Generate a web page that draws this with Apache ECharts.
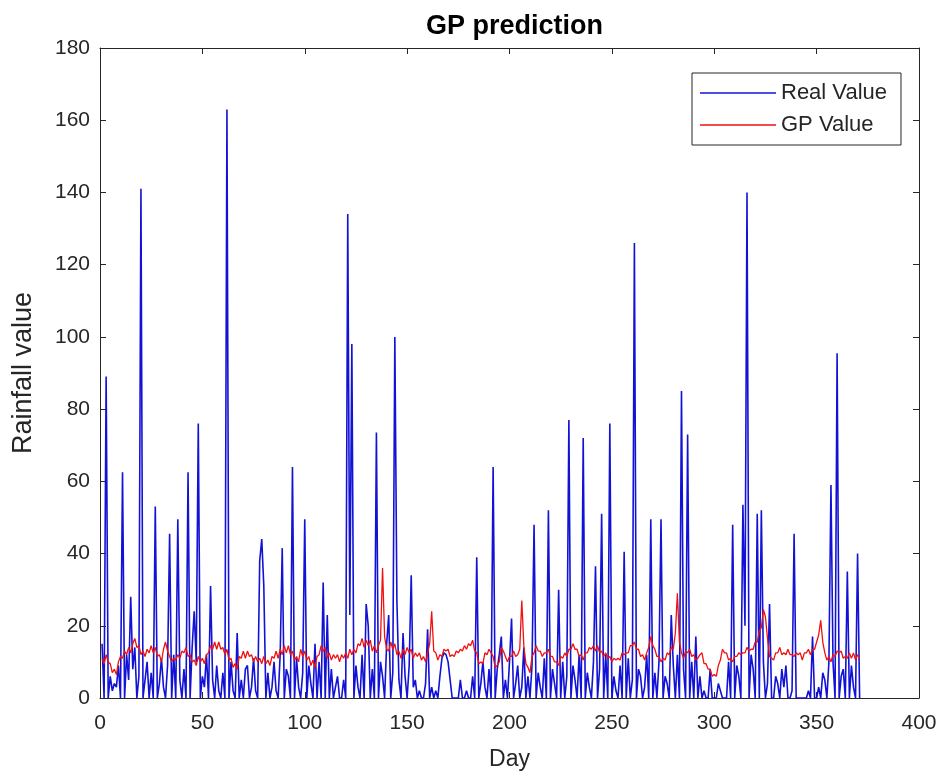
<!DOCTYPE html>
<html>
<head>
<meta charset="utf-8">
<script src="https://cdn.jsdelivr.net/npm/echarts@6/dist/echarts.min.js"></script>
<style>
html,body{margin:0;padding:0;background:#fff;}
#chart{width:949px;height:779px;}
</style>
</head>
<body>
<div id="chart"></div>
<script>
// Real rainfall value, day 1..371
var realValue = [
15, 0, 89, 0, 6, 2, 4, 3, 9, 0,
62.5, 0, 12, 5, 28, 8, 14, 0, 6, 141,
0, 5, 10, 0, 7, 0, 53, 0, 4, 11,
3, 0, 9, 45.5, 0, 12, 0, 49.5, 5, 0,
8, 0, 62.5, 0, 14, 24, 10, 76, 0, 6,
3, 12, 0, 31, 5, 0, 9, 2, 0, 7,
0, 163, 0, 10, 2, 0, 18, 0, 5, 0,
8, 9, 0, 3, 11, 2, 0, 38, 44, 31,
0, 7, 0, 3, 10, 2, 0, 12, 41.5, 0,
8, 6, 0, 64, 0, 11, 3, 0, 7, 49.5,
0, 9, 4, 0, 15, 0, 10, 0, 32, 0,
23, 0, 8, 0, 3, 6, 0, 0, 5, 0,
134, 23, 98, 0, 9, 3, 0, 12, 0, 26,
20, 0, 8, 0, 73.5, 0, 10, 6, 0, 15,
23, 0, 7, 100, 27, 5, 0, 18, 6, 0,
9, 34, 3, 5, 0, 2, 0, 0, 4, 19,
0, 3, 0, 2, 0, 6, 11, 12.5, 12, 10,
5, 0, 0, 0, 0, 5, 0, 0, 2, 0,
0, 6, 0, 39, 0, 4, 10, 3, 0, 8,
0, 64, 0, 8, 12, 17, 0, 5, 0, 10,
22, 0, 4, 9, 0, 3, 14, 0, 6, 0,
9, 48, 0, 7, 3, 0, 11, 0, 52, 0,
8, 4, 0, 30, 0, 10, 0, 6, 77, 0,
9, 5, 0, 12, 0, 72, 0, 7, 3, 0,
10, 36.5, 0, 8, 51, 0, 12, 0, 76, 0,
6, 2, 0, 9, 0, 40.5, 0, 11, 0, 5,
126, 0, 8, 6, 0, 3, 12, 0, 49.5, 0,
7, 0, 10, 49.5, 0, 6, 4, 0, 23, 9,
0, 12, 0, 85, 8, 0, 73, 0, 10, 0,
17, 0, 6, 0, 2, 0, 0, 8, 0, 0,
0, 4, 2, 0, 0, 0, 10, 0, 48, 0,
9, 6, 0, 53.5, 20, 140, 0, 12, 8, 0,
51, 0, 52, 10, 0, 4, 26, 0, 0, 6,
4, 0, 8, 3, 9, 0, 0, 2, 45.5, 0,
0, 0, 0, 0, 0, 2, 0, 17, 0, 0,
3, 0, 7, 5, 0, 10, 59, 10, 0, 95.5,
0, 6, 8, 0, 35, 0, 9, 3, 0, 40,
0
];

// GP predicted value, day 1..371
var gpValue = [
11, 9.5, 12, 10, 9.5, 7, 8, 6.5, 10, 11.5,
11, 13, 12, 14, 12.5, 15, 16.5, 14, 14.5, 12,
13, 11.5, 13.5, 12.5, 14.5, 12.5, 14, 11.5, 12, 10,
13.5, 15.5, 13, 11.5, 10, 11, 10.5, 12, 11, 13,
12.5, 14, 11.5, 12, 10, 10.5, 9, 11.5, 10, 11,
9.5, 12, 12.5, 14.5, 13.5, 15.5, 13.5, 15.5, 13.5, 14,
12, 13.5, 10.5, 11, 8.5, 9.5, 8, 11.5, 11, 13,
11, 13, 11.5, 12, 10, 11.5, 10, 11, 9.5, 11.5,
9.5, 10.5, 9, 11.5, 11, 13, 11, 13.5, 12, 14.5,
12.5, 14.5, 12, 13, 10.5, 11.5, 10, 13.5, 11.5, 13,
10.5, 11.5, 9, 10.5, 8.5, 11.5, 12, 14.5, 13, 14,
11, 12.5, 10.5, 12, 11, 12, 10, 12, 11, 12.5,
11, 13.5, 12, 13.5, 12.5, 15, 14.5, 16.5, 14, 16,
14.5, 16, 13, 14.5, 12.5, 14.5, 16, 36, 17, 13.5,
13, 15.5, 13.5, 15, 12, 13, 11, 13.5, 12, 14,
12.5, 13.5, 11, 12.5, 11.5, 12.5, 10.5, 11.5, 10, 12.5,
15, 24, 13, 12.5, 10.5, 12, 11.5, 13.5, 13, 13.5,
11.5, 12, 11.5, 13, 12.5, 13.5, 13, 14.5, 13.5, 15,
14.5, 16, 13, 12.5, 9.5, 10, 9.5, 12.5, 12, 13.5,
12.5, 11.5, 8.5, 9, 10, 14, 13, 11.5, 10, 11.5,
11.5, 13, 11.5, 12, 13.5, 27, 14.5, 9.5, 8.5, 7,
11.5, 12.5, 14.5, 13, 13, 11.5, 12.5, 12.5, 13.5, 11.5,
11.5, 10, 10, 9, 11.5, 11, 12.5, 11.5, 13.5, 13.5,
15, 13.5, 13.5, 11.5, 12, 10.5, 12.5, 12.5, 14, 13.5,
14.5, 13, 14.5, 12.5, 13, 11.5, 12.5, 11, 11.5, 10,
11, 10.5, 11, 10.5, 12.5, 12, 12.5, 12.5, 14.5, 14.5,
15.5, 13.5, 13.5, 11.5, 12, 10.5, 12.5, 14, 17, 14.5,
13.5, 11.5, 11.5, 10, 11, 10.5, 12.5, 12, 14, 13.5,
18, 29, 15.5, 12.5, 11, 13, 12.5, 13.5, 11.5, 12,
10.5, 11, 12, 12.5, 9.5, 9.5, 8, 8, 6, 6.5,
6, 9, 10.5, 13.5, 12.5, 12.5, 10.5, 11, 10, 11.5,
11.5, 12.5, 12, 12.5, 12.5, 14, 13, 13.5, 13.5, 15.5,
15.5, 18.5, 19.5, 24.5, 22.5, 16.5, 11.5, 11, 10.5, 12.5,
12.5, 14, 12, 12.5, 12, 13.5, 12, 12, 11.5, 12.5,
12, 12.5, 10.5, 12.5, 12.5, 13.5, 12, 13.5, 13.5, 15.5,
17.5, 21.5, 15.5, 12.5, 10.5, 11.5, 10, 12, 11.5, 13,
12.5, 13, 11, 11.5, 11, 12.5, 11, 12.5, 10.5, 12,
11
];

var seriesNames = ['Real Value', 'GP Value'];
var xTicks = {min: 0, max: 400, interval: 50};
var yTicks = {min: 0, max: 180, interval: 20};

function toPairs(arr) {
  var out = [];
  for (var i = 0; i < arr.length; i++) out.push([i + 1, arr[i]]);
  return out;
}

var FONT = 'Liberation Sans, Arial, Helvetica, sans-serif';
var AX = '#262626';

var chart = echarts.init(document.getElementById('chart'), null, {renderer: 'canvas'});
function boxAxis() {
  return {
    axisLine: {show: true, onZero: false, lineStyle: {color: AX, width: 1}},
    axisTick: {show: true, inside: true, length: 6, lineStyle: {color: AX}},
    axisLabel: {show: false},
    splitLine: {show: false}
  };
}
chart.setOption({
  animation: false,
  backgroundColor: '#ffffff',
  title: {
    text: 'GP prediction',
    left: 421,
    top: 8,
    textStyle: {fontFamily: FONT, fontWeight: 'bold', fontSize: 27, color: '#000'}
  },
  legend: {
    orient: 'vertical',
    left: 692,
    top: 73,
    data: seriesNames,
    icon: 'rect',
    itemWidth: 76,
    itemHeight: 1.5,
    itemGap: 10,
    padding: [9, 14, 9, 8],
    borderColor: AX,
    borderWidth: 1,
    backgroundColor: '#fff',
    align: 'left',
    textStyle: {fontFamily: FONT, fontSize: 22, color: AX, lineHeight: 20}
  },
  grid: {left: 100, right: 30, top: 48, bottom: 81, containLabel: false},
  xAxis: [{
    type: 'value',
    min: xTicks.min, max: xTicks.max, interval: xTicks.interval,
    name: 'Day',
    nameLocation: 'middle',
    nameGap: 50,
    nameTextStyle: {fontFamily: FONT, fontSize: 23, color: AX},
    axisLine: {show: true, onZero: false, lineStyle: {color: AX, width: 1}},
    axisTick: {show: true, inside: true, length: 6, lineStyle: {color: AX}},
    axisLabel: {fontFamily: FONT, fontSize: 21, color: AX, margin: 15},
    splitLine: {show: false}
  }, Object.assign({
    type: 'value', position: 'top',
    min: xTicks.min, max: xTicks.max, interval: xTicks.interval
  }, boxAxis())],
  yAxis: [{
    type: 'value',
    min: yTicks.min, max: yTicks.max, interval: yTicks.interval,
    name: 'Rainfall value',
    nameLocation: 'middle',
    nameGap: 63,
    nameTextStyle: {fontFamily: FONT, fontSize: 27, color: AX},
    axisLine: {show: true, onZero: false, lineStyle: {color: AX, width: 1}},
    axisTick: {show: true, inside: true, length: 6, lineStyle: {color: AX}},
    axisLabel: {fontFamily: FONT, fontSize: 21, color: AX, margin: 10},
    splitLine: {show: false}
  }, Object.assign({
    type: 'value', position: 'right',
    min: yTicks.min, max: yTicks.max, interval: yTicks.interval
  }, boxAxis())],
  series: [{
    name: seriesNames[0],
    type: 'line',
    data: toPairs(realValue),
    showSymbol: false,
    symbol: 'none',
    sampling: null,
    color: '#1212d6',
    lineStyle: {color: '#1212d6', width: 1.6},
    z: 2
  }, {
    name: seriesNames[1],
    type: 'line',
    data: toPairs(gpValue),
    showSymbol: false,
    symbol: 'none',
    sampling: null,
    color: '#f01010',
    lineStyle: {color: '#f01010', width: 1.3},
    z: 3
  }]
});
</script>
</body>
</html>
